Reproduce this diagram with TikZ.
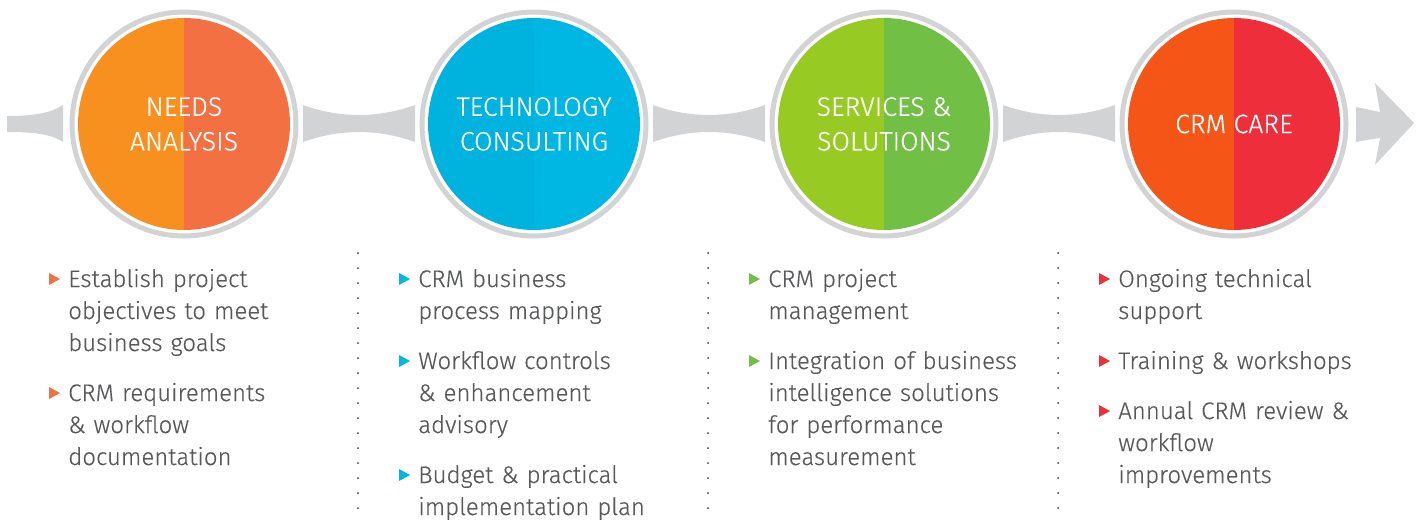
\documentclass[tikz,border=0pt]{standalone}
\usepackage{fontspec}
\setmainfont{Fira Sans Light}[FakeBold=0.4]
\usepackage{tikz}
\usetikzlibrary{calc}

\definecolor{needsL}{HTML}{F7901E}
\definecolor{needsR}{HTML}{F37043}
\definecolor{techL}{HTML}{00B2DE}
\definecolor{techR}{HTML}{00B6E2}
\definecolor{servL}{HTML}{97CA22}
\definecolor{servR}{HTML}{71BF44}
\definecolor{careL}{HTML}{F55617}
\definecolor{careR}{HTML}{EE2E3B}
\definecolor{linkgrey}{HTML}{D1D3D4}
\definecolor{textgrey}{HTML}{58595B}
\definecolor{dotgrey}{HTML}{3A3A3A}

\tikzset{
  stage/.style 2 args={circle, inner sep=0pt, minimum size=159pt, align=center,
    text=white, font=\fontsize{20}{26}\selectfont,
    path picture={
      \fill[#1] (path picture bounding box.south west) rectangle (path picture bounding box.north);
      \fill[#2] (path picture bounding box.south) rectangle (path picture bounding box.north east);
    }},
  ring/.style={draw=linkgrey, line width=3.75pt},
  link/.style={fill=linkgrey},
  item/.style={anchor=base west, inner sep=0pt, text width=240pt, align=left,
    text=textgrey, font=\fontsize{18}{24}\selectfont},
  sep/.style={draw=dotgrey, line width=1.5pt, dash pattern=on 0pt off 11.25pt, line cap=round}
}

% bullet in front of an item
\newcommand{\tip}[2]{\fill[#1] ($(#2.base west)+(-19,-14)$) -- ++(11,6) -- ++(-11,6) -- cycle;}

\begin{document}
\begin{tikzpicture}[x=0.75pt, y=-0.75pt]
    \useasboundingbox (0,0) rectangle (1424,522);

    % The four stages
    \node[stage={needsL}{needsR}] (needs) at (184,124) {NEEDS\\ANALYSIS};
    \node[stage={techL}{techR}] (tech) at (534,124) {TECHNOLOGY\\CONSULTING};
    \node[stage={servL}{servR}] (serv) at (884,124) {SERVICES \&\\SOLUTIONS};
    \node[stage={careL}{careR}] (care) at (1234,124) {CRM CARE};

    \foreach \n in {needs,tech,serv,care}
        \draw[ring] (\n.center) circle[radius=84pt];

    % Links between stages
    \foreach \a/\b in {needs/tech,tech/serv,serv/care}
        \fill[link] ($(\a.center)+(119,-19)$)
            .. controls ($(\a.center)+(156,-5.7)$) and ($(\b.center)+(-156,-5.7)$) .. ($(\b.center)+(-119,-19)$)
            -- ($(\b.center)+(-119,18)$)
            .. controls ($(\b.center)+(-156,4.7)$) and ($(\a.center)+(156,4.7)$) .. ($(\a.center)+(119,18)$)
            -- cycle;

    % Tail and head
    \fill[link] ($(needs.center)+(-177,-8)$)
        .. controls ($(needs.center)+(-150,-8)$) and ($(needs.center)+(-133,-11)$) .. ($(needs.center)+(-121,-19)$)
        -- ($(needs.center)+(-121,18)$)
        .. controls ($(needs.center)+(-133,10)$) and ($(needs.center)+(-150,8)$) .. ($(needs.center)+(-177,8)$)
        -- cycle;
    \fill[link] ($(care.center)+(122,-17)$)
        .. controls ($(care.center)+(132,-15)$) .. ($(care.center)+(146,-12)$)
        -- ($(care.center)+(141,-41)$) -- ($(care.center)+(180,-1)$)
        -- ($(care.center)+(141,41)$) -- ($(care.center)+(146,14)$)
        .. controls ($(care.center)+(132,16)$) .. ($(care.center)+(122,18)$)
        -- cycle;

    % Separators
    \foreach \x in {358,708,1058}
        \draw[sep] (\x,253) -- (\x,512);

    % Needs analysis
    \node[item] (na1) at (68,287) {Establish project\\objectives to meet\\business goals};
    \node[item] (na2) at (68,401) {CRM requirements\\\& workflow\\documentation};
    \tip{needsR}{na1} \tip{needsR}{na2}

    % Technology consulting
    \node[item] (tc1) at (418,287) {CRM business\\process mapping};
    \node[item] (tc2) at (418,369) {Workflow controls\\\& enhancement\\advisory};
    \node[item] (tc3) at (418,483) {Budget \& practical\\implementation plan};
    \tip{techR}{tc1} \tip{techR}{tc2} \tip{techR}{tc3}

    % Services & solutions
    \node[item] (ss1) at (768,287) {CRM project\\management};
    \node[item] (ss2) at (768,369) {Integration of business\\intelligence solutions\\for performance\\measurement};
    \tip{servR}{ss1} \tip{servR}{ss2}

    % CRM care
    \node[item] (cc1) at (1118,287) {Ongoing technical\\support};
    \node[item] (cc2) at (1118,369) {Training \& workshops};
    \node[item] (cc3) at (1118,419) {Annual CRM review \&\\workflow\\improvements};
    \tip{careR}{cc1} \tip{careR}{cc2} \tip{careR}{cc3}
\end{tikzpicture}
\end{document}
